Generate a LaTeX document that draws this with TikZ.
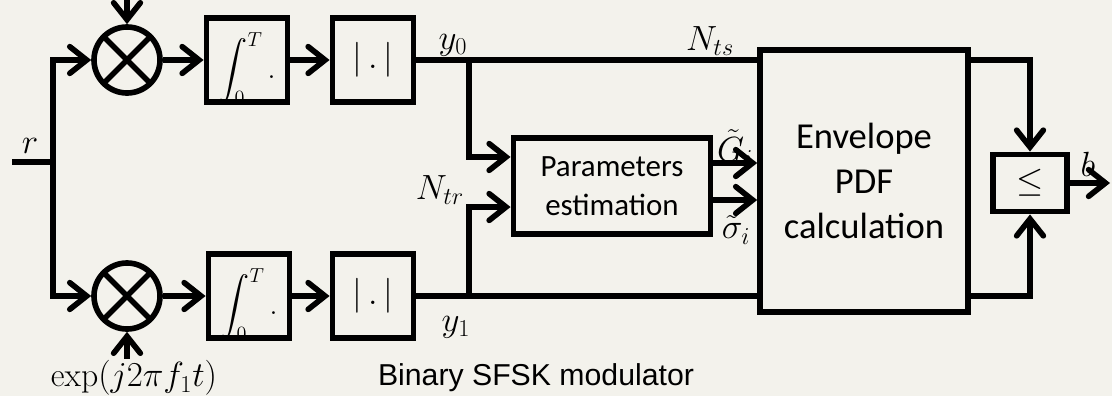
\documentclass[tikz,border=0pt]{standalone}
\usepackage{fontspec}
\usepackage{amsmath}
\usepackage{xcolor}
\usepackage{tikz}
\usetikzlibrary{arrows.meta, positioning}
\newfontfamily\calib{Carlito}
\newfontfamily\arialfont{Liberation Sans}
\definecolor{paper}{RGB}{243,242,236}
\tikzstyle{wire} = [line width=4pt]
\tikzstyle{arrow} = [line width=4pt,->,>={Straight Barb[length=12pt,width=19pt,line cap=round]}]
\tikzstyle{block} = [draw, line width=4pt, rectangle, inner sep=0pt, align=center]
\tikzstyle{mixer} = [draw, line width=4pt, circle, inner sep=0pt, minimum size=1.65cm,
    path picture={\draw[line width=4pt] (path picture bounding box.north west) -- (path picture bounding box.south east)
        (path picture bounding box.south west) -- (path picture bounding box.north east);}]
\tikzstyle{integ} = [block, minimum width=2.03cm, minimum height=2.1cm,
    path picture={\node[font=\fontsize{20}{24}\selectfont] at ([yshift=-6pt]path picture bounding box.center) {$\displaystyle\int_0^T .$};}]
\tikzstyle{absbox} = [block, minimum width=2.03cm, minimum height=2.1cm, font=\fontsize{30}{32}\selectfont]
\tikzstyle{lbl} = [inner sep=1pt, font=\fontsize{24}{28}\selectfont]

\begin{document}
\begin{tikzpicture}[x=0.025cm, y=-0.025cm]
        % background and page size
        \fill[paper] (0,0) rectangle (1112,396);
        \useasboundingbox (0,0) rectangle (1112,396);

        % two correlator branches
        \node[mixer] (mix0) at (127,60) {};
        \node[mixer] (mix1) at (127,296) {};
        \node[integ] (int0) at (247,60) {};
        \node[integ] (int1) at (249,296) {};
        \node[absbox] (abs0) at (373,60) {$|\,.\,|$};
        \node[absbox] (abs1) at (373,296) {$|\,.\,|$};

        % estimation, PDF and decision
        \node[block, minimum width=4.93cm, minimum height=2.4cm, font=\calib\fontsize{22}{28}\selectfont] (est) at (612,186) {Parameters\\estimation};
        \node[block, minimum width=5.2cm, minimum height=6.55cm, font=\calib\fontsize{26}{32}\selectfont] (env) at (864,181) {Envelope\\PDF\\calculation};
        \node[block, minimum width=1.85cm, minimum height=1.43cm, font=\fontsize{24}{26}\selectfont] (cmp) at (1030,183) {$\leq$};

        % carriers
        \node[lbl] (osc0) at (130,-27) {$\exp(j2\pi f_0t)$};
        \node[lbl] (osc1) at (134,378) {$\exp(j2\pi f_1t)$};

        % input split
        \coordinate (rin) at (12,162);
        \coordinate (split) at (53,162);
        \node[lbl] (rlab) at (30,146) {$r$};
        \draw[wire] (rin) -- (split);
        \draw[arrow] (split) |- (mix0);
        \draw[arrow] (split) |- (mix1);
        \draw[arrow] (mix0 |- osc0.south) -- (mix0);
        \draw[arrow] (mix1 |- osc1.north) -- (mix1);

        % branch chains
        \draw[arrow] (mix0) -- (int0);
        \draw[arrow] (mix1) -- (int1);
        \draw[arrow] (int0) -- (abs0);
        \draw[arrow] (int1) -- (abs1);
        \draw[wire] (abs0) -- (abs0 -| env.west);
        \draw[wire] (abs1) -- (abs1 -| env.west);
        \node[lbl] (y0lab) at (453,45) {$y_0$};
        \node[lbl] (y1lab) at (456,327) {$y_1$};
        \node[lbl] (ntslab) at (710,41) {$N_{ts}$};

        % training taps
        \coordinate (tap0) at (469,60);
        \coordinate (tap1) at (469,296);
        \draw[arrow] (tap0) |- ([yshift=0.725cm]est.west);
        \draw[arrow] (tap1) |- ([yshift=-0.525cm]est.west);
        \node[lbl] (ntrlab) at (440,190) {$N_{tr}$};

        % estimates into the PDF block
        \draw[arrow] ([yshift=0.575cm]est.east) coordinate (gout) -- (gout -| env.west);
        \draw[arrow] ([yshift=-0.35cm]est.east) coordinate (sout) -- (sout -| env.west);
        \node[lbl] (glab) at (735,148) {$\tilde{G}_i$};
        \node[lbl] (slab) at (736,230) {$\tilde{\sigma}_i$};

        % decision
        \draw[arrow] (abs0 -| env.east) -| (cmp.north);
        \draw[arrow] (abs1 -| env.east) -| (cmp.south);
        \coordinate (bout) at (1110,183);
        \draw[arrow] (cmp) -- (bout);
        \node[lbl] (blab) at (1088,164) {$b$};

        \node[font=\arialfont\fontsize{21.5}{26}\selectfont] (title) at (536,378) {Binary SFSK modulator};
\end{tikzpicture}
\end{document}
